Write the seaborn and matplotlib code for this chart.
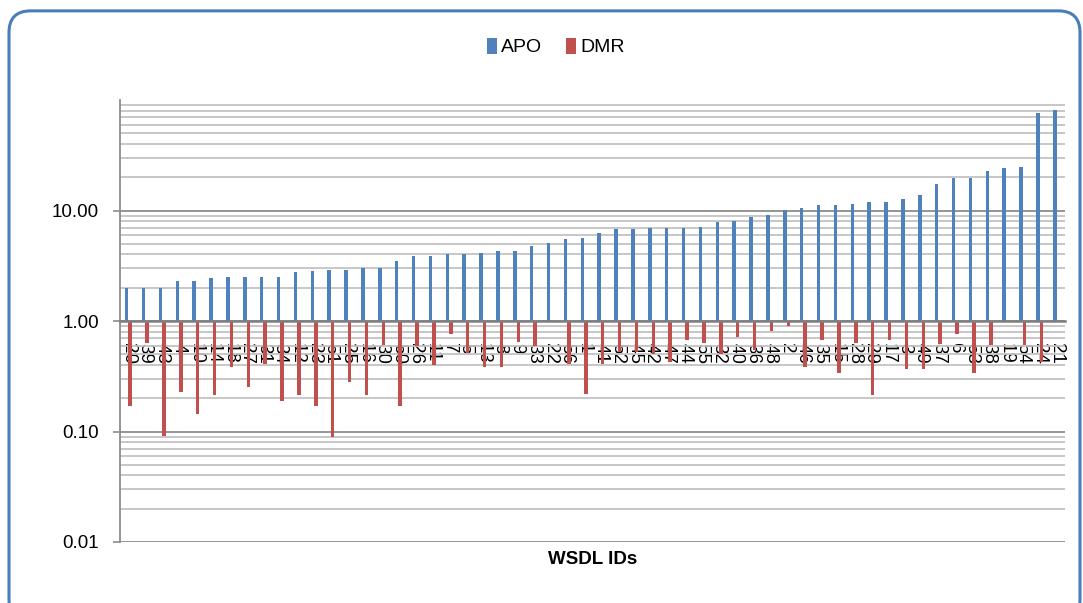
import numpy as np
import pandas as pd
import seaborn as sns
import matplotlib.pyplot as plt
from matplotlib.patches import FancyBboxPatch, Patch
from matplotlib.ticker import FixedLocator, LogLocator, FuncFormatter, NullFormatter

# WSDL ids in chart order and the two series
wsdl_ids = ["20", "39", "43", "4", "10", "14", "18", "27", "31", "34",
            "12", "23", "51", "25", "16", "30", "50", "26", "11", "7",
            "5", "13", "8", "9", "33", "22", "56", "1", "41", "52",
            "45", "42", "47", "44", "55", "32", "40", "36", "48", "2",
            "46", "35", "15", "28", "29", "17", "3", "49", "37", "6",
            "53", "38", "19", "54", "24", "21"]

apo = [2.0, 2.0, 2.0, 2.3, 2.3, 2.45, 2.5, 2.5, 2.5, 2.5,
       2.75, 2.85, 2.9, 2.9, 3.0, 3.0, 3.5, 3.85, 3.9, 4.05,
       4.05, 4.15, 4.3, 4.3, 4.8, 5.05, 5.5, 5.65, 6.25, 6.85,
       6.85, 6.9, 6.9, 7.0, 7.05, 7.95, 8.1, 8.75, 9.1, 10.1,
       10.45, 11.1, 11.25, 11.35, 11.9, 12.05, 12.65, 13.8, 17.3, 19.8,
       19.8, 22.6, 24.2, 24.6, 75.7, 81.6]

dmr = [0.17, 0.635, 0.092, 0.23, 0.145, 0.216, 0.38, 0.253, 0.41, 0.19,
       0.216, 0.17, 0.09, 0.283, 0.216, 0.61, 0.17, 0.60, 0.40, 0.76,
       0.51, 0.384, 0.38, 0.649, 0.60, np.nan, 0.405, 0.22, 0.405, 0.526,
       0.526, 0.508, 0.427, 0.68, 0.635, 0.508, 0.711, 0.545, 0.817, 0.90,
       0.384, 0.68, 0.339, 0.635, 0.212, 0.68, 0.364, 0.364, 0.618, 0.77,
       0.339, 0.61, np.nan, 0.61, 0.427, np.nan]

series_names = ["APO", "DMR"]
series_colors = ["#4F81BD", "#C0504D"]

df = pd.DataFrame({
    "id": wsdl_ids * 2,
    "value": apo + dmr,
    "series": ["APO"] * len(apo) + ["DMR"] * len(dmr),
})
# Excel draws the bars from the 1.00 line, so bar height is value - 1 on top of bottom=1
df["height"] = df["value"] - 1

fig = plt.figure(figsize=(10.83, 6.03), dpi=100)
ax = fig.add_axes([120 / 1083, 1 - 542 / 603, 945 / 1083, 442 / 603])

sns.barplot(data=df, x="id", y="height", hue="series", order=wsdl_ids,
            hue_order=series_names, palette=series_colors, width=0.42,
            errorbar=None, bottom=1, linewidth=0, saturation=1,
            legend=False, ax=ax)

ax.set_yscale("log")
ax.set_ylim(0.01, 100)
ax.set_xlim(-0.5, len(wsdl_ids) - 0.5)

# y axis: major decades and minor gridlines
ax.yaxis.set_major_locator(FixedLocator([0.01, 0.1, 1, 10]))
ax.yaxis.set_major_formatter(FuncFormatter(lambda v, p: f"{v:.2f}"))
ax.yaxis.set_minor_locator(LogLocator(base=10, subs=range(2, 10)))
ax.yaxis.set_minor_formatter(NullFormatter())
ax.grid(which="major", axis="y", color="#8C8C8C", lw=1.3)
ax.grid(which="minor", axis="y", color="#C3C3C3", lw=1.3)
ax.grid(False, axis="x")
ax.set_axisbelow(True)

for s in ["top", "right"]:
    ax.spines[s].set_visible(False)
ax.spines["left"].set_color("#8C8C8C")
ax.spines["left"].set_linewidth(1.3)
# category axis crosses at 1.00
ax.spines["bottom"].set_position(("data", 1))
ax.spines["bottom"].set_color("#7F7F7F")
ax.spines["bottom"].set_linewidth(1.8)

ax.tick_params(axis="y", which="major", length=5, color="#8C8C8C", width=1.2,
               pad=10, labelsize=13.5, labelcolor="black")
ax.tick_params(axis="y", which="minor", length=0)
ax.tick_params(axis="x", length=0, pad=16, labelsize=13.5, labelrotation=270)
for lbl in ax.get_xticklabels():
    lbl.set_family("Liberation Sans")
for lbl in ax.get_yticklabels():
    lbl.set_family("Liberation Sans")

ax.set_ylabel("")
ax.set_xlabel("WSDL IDs", fontsize=13.5, fontweight="bold", family="Liberation Sans")
ax.xaxis.set_label_coords(0.5, -0.02)

handles = [Patch(facecolor=c, label=n) for n, c in zip(series_names, series_colors)]
fig.legend(handles=handles, loc="center", bbox_to_anchor=(0.513, 1 - 47 / 603),
           ncol=2, frameon=False, handlelength=0.55, handleheight=0.9,
           handletextpad=0.2, columnspacing=1.2,
           prop={"family": "Liberation Sans", "size": 14})

# rounded chart border
border = FancyBboxPatch((9 / 1083, -0.03), 1071 / 1083, 1.012,
                        boxstyle="round,pad=0,rounding_size=0.02",
                        mutation_aspect=1083 / 603, transform=fig.transFigure,
                        facecolor="none", edgecolor="#4A7EBB", lw=2.2, zorder=-1)
fig.patches.append(border)

plt.savefig("out.png", dpi=100)
